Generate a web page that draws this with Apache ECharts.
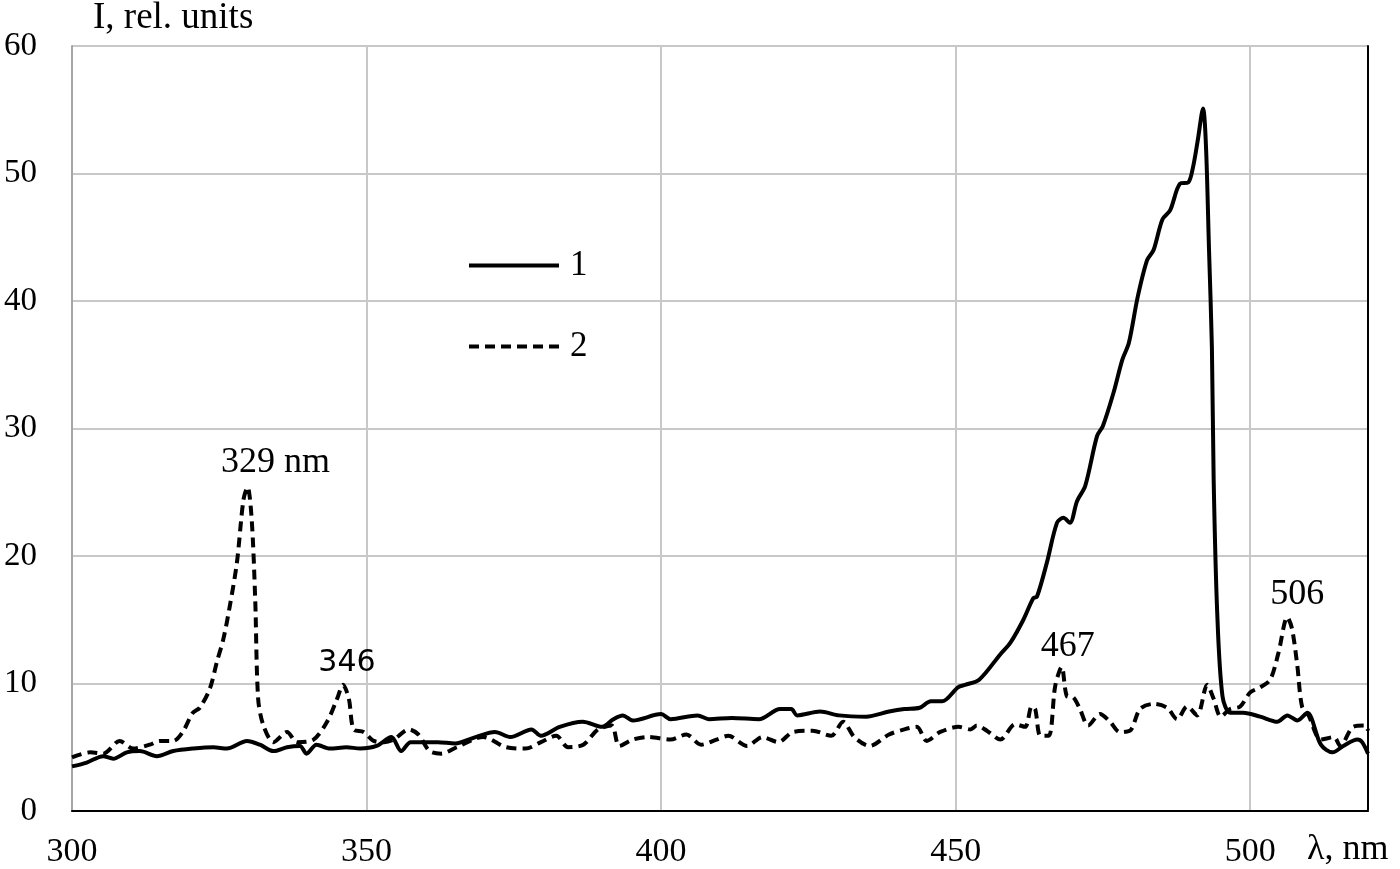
<!DOCTYPE html>
<html>
<head>
<meta charset="utf-8">
<script src="https://cdn.jsdelivr.net/npm/echarts@6/dist/echarts.min.js"></script>
<style>
html,body{margin:0;padding:0;background:#fff;}
#chart{width:1400px;height:869px;}
</style>
</head>
<body>
<div id="chart"></div>
<script>
// Series 1 (solid)
var wl1 = [300,302.5,305.3,307,309.3,311.5,314.4,317.2,320.6,324,326.3,329.7,331.9,334.2,336.5,338.7,339.8,341.5,343.8,346.6,348.9,351.7,354.2,355.9,357.5,362.1,365,368.5,371.8,374.4,378,379.6,382.8,386.7,390,391.9,393.5,395.2,400,401.6,406.2,408.1,412,416.6,420.2,422.1,423.1,427,430.2,434.8,438.7,441.3,443.9,445.8,447.7,450.4,451.6,454,457.6,459.3,461.5,463.2,463.8,465.5,467.2,468.3,469.4,470.6,472,474,475,476.8,478.3,479.4,480.9,482.5,483.6,485.1,486.4,488.1,489.5,490.3,491.1,492,492.5,493,493.5,493.8,494.4,495.3,496.6,498.8,501.7,504.6,506.3,508,509.7,512,514,515.8,518.2,519,520];
var int1 = [3.5,3.8,4.3,4.1,4.6,4.7,4.3,4.7,4.9,5.0,4.9,5.5,5.2,4.7,5.0,5.1,4.5,5.2,4.9,5.0,4.9,5.1,5.8,4.7,5.4,5.4,5.3,5.8,6.2,5.8,6.4,5.9,6.6,7.0,6.6,7.2,7.5,7.1,7.6,7.2,7.5,7.2,7.3,7.2,8.0,8.0,7.5,7.8,7.5,7.4,7.8,8.0,8.1,8.6,8.6,9.7,9.9,10.3,12.3,13.2,15.0,16.7,16.8,19.5,22.6,23.0,22.6,24.3,25.5,29.4,30.2,32.8,35.4,36.7,40.3,43.2,44.0,46.4,47.1,49.2,49.3,50.5,52.6,55.1,52.1,44.2,36.4,26,15.6,9.0,7.7,7.7,7.4,7.0,7.5,7.1,7.7,5.2,4.6,5.1,5.6,5.4,4.5];
// Series 2 (dashed)
var wl2 = [300,303.1,305.3,308.1,310.4,313.2,314.9,317.2,318.8,320.5,321.7,323.4,324.6,325.7,326.8,328,329.1,329.8,330.5,331.1,331.6,332.5,334.2,336.5,338.2,341,343.3,345,346,347,347.8,349.5,351.2,353,354.6,357.2,358.8,360.7,362.7,365.3,369.8,373.7,377,379.6,382.2,384.2,386.8,389.3,391.6,392.9,395.2,397.8,401.6,404.3,406.8,409.4,411.4,414.6,417.2,419.9,422.4,425.7,428.9,430.9,432.8,435.4,438.7,441.3,443.4,445.1,447.4,450.5,452.5,453.6,455.3,457.6,460.1,461.8,462.9,463.5,464.4,465.8,466.9,468,468.9,470,471.1,472.5,474.5,476.2,477.9,479.6,481.3,483.6,485.9,487.6,489.3,491,492.7,493.8,495,496.6,498.3,500,501.7,503.4,504.8,506.3,507.1,508,508.8,509.9,512,514.2,515.3,517.5,519.6,520];
var int2 = [4.2,4.6,4.5,5.5,4.9,5.2,5.5,5.5,6.2,7.7,8.1,9.6,11.7,13.5,16.1,19.5,24.4,25.4,22.9,16.6,8.8,6.7,5.4,6.2,5.4,5.6,7.0,8.8,9.9,8.8,6.4,6.2,5.5,5.4,5.6,6.4,6.0,4.7,4.5,5.0,5.8,5.0,4.9,5.4,5.9,5.0,5.2,6.4,6.7,5.1,5.6,5.8,5.6,6.0,5.2,5.6,5.9,5.1,5.8,5.4,6.2,6.3,5.9,7.0,5.8,5.1,6.0,6.4,6.6,5.5,6.2,6.6,6.4,6.7,6.3,5.6,6.8,6.6,8.2,8.0,5.9,5.9,9.8,11.3,9.0,8.9,8.0,6.7,7.6,7.0,6.2,6.3,8.0,8.4,8.1,7.2,8.2,7.5,9.9,8.8,7.4,8.0,8.2,9.3,9.7,10.3,12.4,15.2,14.3,11.4,8.2,7.5,5.6,5.8,5.1,6.6,6.7,6.3];
// Peak annotations
var peakText = ['329 nm','346','467','506'];
var peakWl = [329.8,346,468,506.3];
var peakVal = [25.4,9.9,11.3,15.2];
var xTicks = [300,350,400,450,500];
var yTicks = [0,10,20,30,40,50,60];

var serif = '"Liberation Serif", "Times New Roman", serif';
var sans = '"DejaVu Sans", Verdana, sans-serif';

function pairs(xs, ys){ return xs.map(function(x,i){ return [x, ys[i]]; }); }

var peakOffsets = [[28,-25],[4,-22],[6,-20],[10,-23]];
var peakFonts = [serif, sans, serif, serif];
var markData = peakText.map(function(t,i){
  return {
    name: t,
    coord: [peakWl[i], peakVal[i]],
    label: {offset: peakOffsets[i], fontFamily: peakFonts[i], fontSize: i===1 ? 30 : 36}
  };
});

var chart = echarts.init(document.getElementById('chart'));
chart.setOption({
  animation: false,
  backgroundColor: '#fff',
  grid: {left: 72, right: 32, top: 46, bottom: 57, containLabel: false},
  legend: {
    orient: 'vertical',
    left: 462,
    top: 243,
    itemWidth: 90,
    itemHeight: 14,
    itemGap: 46,
    data: ['1','2'],
    itemStyle: {opacity: 0},
    lineStyle: {width: 4},
    textStyle: {fontFamily: serif, fontSize: 35, color: '#000', padding: [0,0,0,6]}
  },
  xAxis: [{
    type: 'value', min: 300, max: 520, interval: 50,
    axisLine: {show: true, lineStyle: {color: '#a6a6a6', width: 2}},
    axisTick: {show: false},
    splitLine: {show: true, lineStyle: {color: '#c8c8c8', width: 2}},
    axisLabel: {fontFamily: serif, fontSize: 34, color: '#000', margin: 24,
      showMaxLabel: false,
      formatter: function(v){ return xTicks.indexOf(v) >= 0 ? String(v) : ''; }}
  },{
    type: 'value', min: 300, max: 520, position: 'top',
    axisLine: {show: true, lineStyle: {color: '#000', width: 2}},
    axisTick: {show: false}, axisLabel: {show: false}, splitLine: {show: false}
  }],
  yAxis: [{
    type: 'value', min: 0, max: 60, interval: 10,
    axisLine: {show: true, lineStyle: {color: '#a6a6a6', width: 2}},
    axisTick: {show: false},
    splitLine: {show: true, lineStyle: {color: '#c8c8c8', width: 2}},
    axisLabel: {fontFamily: serif, fontSize: 33, color: '#000', margin: 35,
      formatter: function(v){ return yTicks.indexOf(v) >= 0 ? String(v) : ''; }}
  },{
    type: 'value', min: 0, max: 60, position: 'right',
    axisLine: {show: true, lineStyle: {color: '#000', width: 2}},
    axisTick: {show: false}, axisLabel: {show: false}, splitLine: {show: false}
  }],
  graphic: [
    {type: 'text', left: 93, top: 0, style: {text: 'I, rel. units', font: '37px ' + serif, fill: '#000'}},
    {type: 'text', left: 1307, top: 832, style: {text: 'λ, nm', font: '36px ' + serif, fill: '#000'}}
  ],
  series: [{
    name: '1', type: 'line', data: pairs(wl1, int1),
    symbol: 'none', smooth: 0.3,
    lineStyle: {color: '#000', width: 4},
    itemStyle: {color: '#000'}
  },{
    name: '2', type: 'line', data: pairs(wl2, int2),
    symbol: 'none', smooth: 0.3,
    lineStyle: {color: '#000', width: 4, type: [10, 6]},
    itemStyle: {color: '#000'},
    markPoint: {
      symbol: 'circle', symbolSize: 0,
      label: {show: true, position: 'inside', color: '#000', formatter: '{b}'},
      data: markData
    }
  }]
});
</script>
</body>
</html>
